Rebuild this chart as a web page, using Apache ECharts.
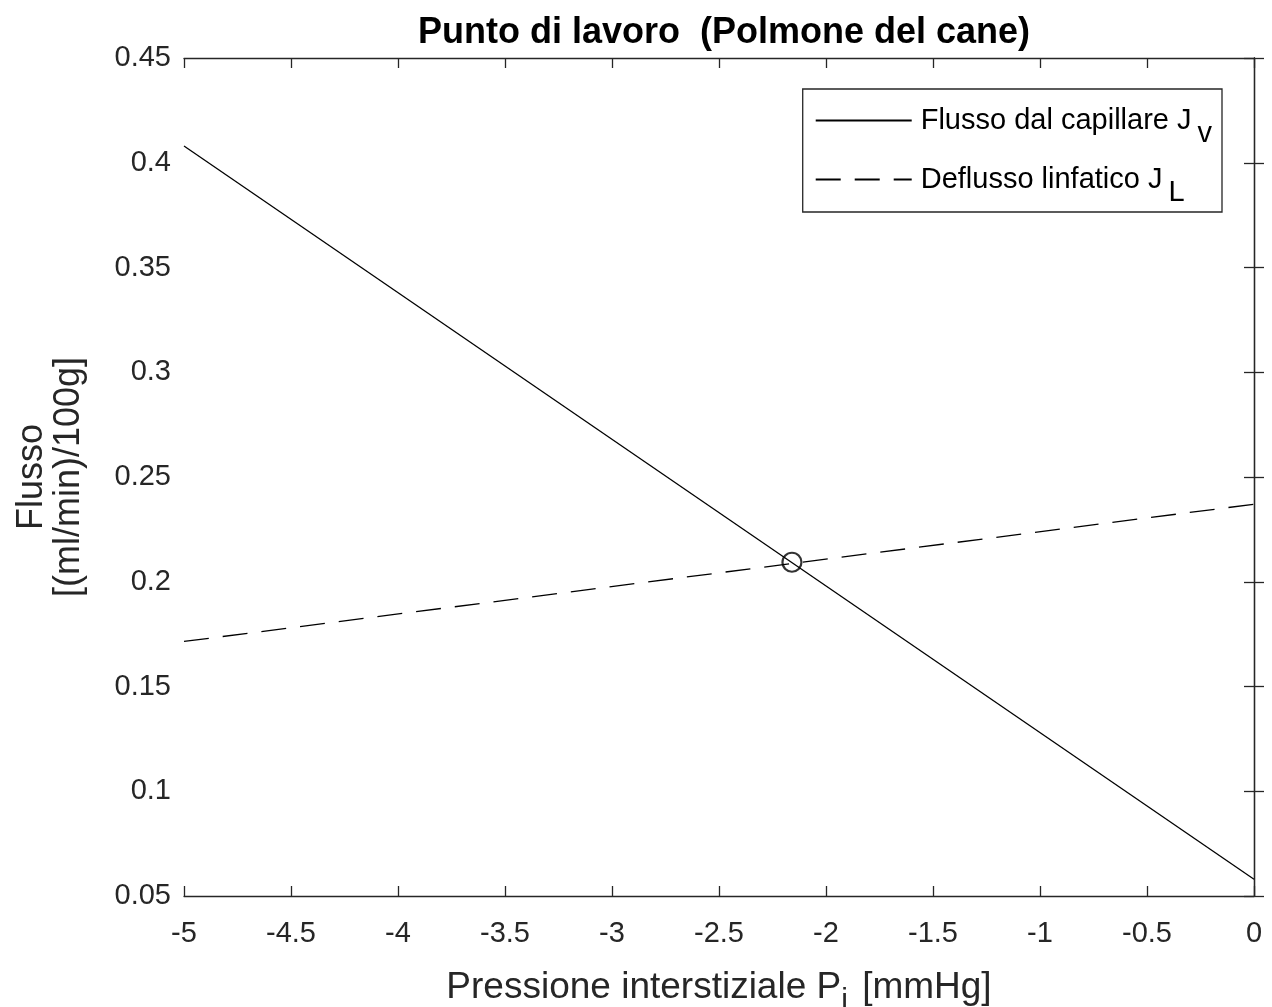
<!DOCTYPE html>
<html><head><meta charset="utf-8">
<script src="https://cdn.jsdelivr.net/npm/echarts@6/dist/echarts.min.js"></script>
<style>html,body{margin:0;padding:0;background:#fff;overflow:hidden}#c{width:1272px;height:1007px}</style>
</head><body><div id="c"></div>
<script>
var pressure = [-5, 0];
var jv = [0.408, 0.058];
var jl = [0.1715, 0.237];
var workPoint = [[-2.159, 0.2093]];
var xTicks = [-5, -4.5, -4, -3.5, -3, -2.5, -2, -1.5, -1, -0.5, 0];
var yTicks = [0.05, 0.1, 0.15, 0.2, 0.25, 0.3, 0.35, 0.4, 0.45];

var FONT = '"Liberation Sans", Arial, Helvetica, sans-serif';
var AX = '#262626';
var chart = echarts.init(document.getElementById('c'));
function pairs(xs, ys){ return xs.map(function(x,i){return [x, ys[i]];}); }
var boxAxis = {show:true, lineStyle:{color:AX, width:1.3}};
var tick = {inside:true, length:10, lineStyle:{color:AX, width:1.3}};
chart.setOption({
  animation:false,
  backgroundColor:'#fff',
  title:{text:'Punto di lavoro  (Polmone del cane)', left:719, textAlign:'center', top:10,
    textStyle:{fontFamily:FONT, fontSize:36, fontWeight:'bold', color:'#000'}},
  grid:{left:184, right:18, top:58, bottom:111, containLabel:false, outerBoundsMode:'none'},
  legend:{
    orient:'vertical', right:50, top:89, itemWidth:96, itemHeight:14, itemGap:17,
    padding:[17,10,5,12],
    borderColor:AX, borderWidth:1.3, backgroundColor:'#fff',
    itemStyle:{opacity:0},
    data:['jv','jl'],
    formatter:function(n){ return n==='jv' ? 'Flusso dal capillare J{sub|v}' : 'Deflusso linfatico J{sub|L}'; },
    textStyle:{fontFamily:FONT, fontSize:29, color:'#000', padding:[0,0,0,4],
      rich:{sub:{fontFamily:FONT, fontSize:29, color:'#000', padding:[26,0,0,6]}}}
  },
  xAxis:[{
    type:'value', min:-5, max:0, interval:0.5, position:'bottom',
    name:'Pressione interstiziale P{sub|i} [mmHg]', nameLocation:'middle', nameGap:64,
    nameTextStyle:{fontFamily:FONT, fontSize:37, color:AX,
      rich:{sub:{fontFamily:FONT, fontSize:30, color:AX, padding:[26,4,0,0]}}},
    axisLine:boxAxis, axisTick:tick,
    axisLabel:{fontFamily:FONT, fontSize:29, color:AX, margin:23,
      formatter:function(v){return String(v);}},
    splitLine:{show:false}
  },{
    type:'value', min:-5, max:0, interval:0.5, position:'top',
    axisLine:boxAxis, axisTick:tick,
    axisLabel:{show:false}, splitLine:{show:false}
  }],
  yAxis:[{
    type:'value', min:0.05, max:0.45, interval:0.05, position:'left',
    name:'Flusso\n[(ml/min)/100g]', nameLocation:'middle', nameGap:96, nameRotate:90,
    nameTextStyle:{fontFamily:FONT, fontSize:36, color:AX, lineHeight:37},
    axisLine:boxAxis, axisTick:tick,
    axisLabel:{fontFamily:FONT, fontSize:29, color:AX, margin:13,
      formatter:function(v){return String(+v.toFixed(2));}},
    splitLine:{show:false}
  },{
    type:'value', min:0.05, max:0.45, interval:0.05, position:'right',
    axisLine:boxAxis, axisTick:tick,
    axisLabel:{show:false}, splitLine:{show:false}
  }],
  series:[
    {name:'jv', type:'line', data:pairs(pressure, jv), symbol:'none',
      lineStyle:{color:'#000', width:1.3, type:'solid'}, itemStyle:{color:'#000'}},
    {name:'jl', type:'line', data:pairs(pressure, jl), symbol:'none',
      lineStyle:{color:'#000', width:1.3, type:[25,14]}, itemStyle:{color:'#000'}},
    {name:'pt', type:'scatter', data:workPoint, symbol:'circle', symbolSize:19,
      itemStyle:{color:'rgba(0,0,0,0)', borderColor:'#000', borderWidth:2.2}, z:5}
  ]
});
</script></body></html>
